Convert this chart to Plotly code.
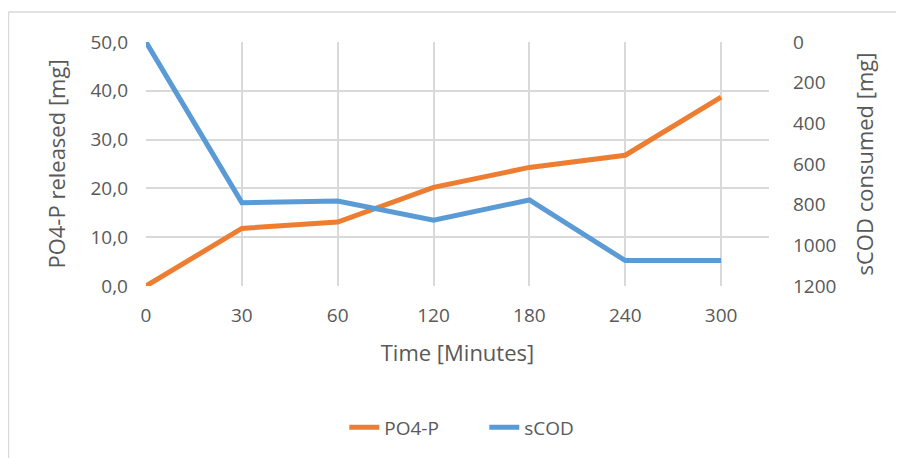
import plotly.graph_objects as go

time_labels = ["0", "30", "60", "120", "180", "240", "300"]
po4_p = [0.0, 11.8, 13.1, 20.2, 24.3, 26.8, 38.7]
scod = [0, 790, 782, 876, 777, 1075, 1075]
left_ticks = [0, 10, 20, 30, 40, 50]
left_tick_text = ["0,0", "10,0", "20,0", "30,0", "40,0", "50,0"]
right_ticks = [0, 200, 400, 600, 800, 1000, 1200]

FONT = "Open Sans"
GRAY = "#595959"
GRID = "#D9D9D9"

fig = go.Figure()
fig.add_trace(go.Scatter(x=list(range(len(time_labels))), y=po4_p, name="PO4-P",
                         mode="lines", line=dict(color="#ED7D31", width=5), yaxis="y"))
fig.add_trace(go.Scatter(x=list(range(len(time_labels))), y=scod, name="sCOD",
                         mode="lines", line=dict(color="#5B9BD5", width=5), yaxis="y2"))

fig.update_layout(
    width=904, height=458,
    margin=dict(l=138, r=143, t=34, b=180),
    paper_bgcolor="white", plot_bgcolor="white",
    font=dict(family=FONT, color=GRAY, size=19),
    showlegend=True,
    legend=dict(orientation="h", x=0.543, xanchor="center", y=-0.58, yanchor="middle",
                font=dict(size=19, color=GRAY), traceorder="normal",
                entrywidth=95, entrywidthmode="pixels"),
    xaxis=dict(range=[0, 6.5], tickmode="array", tickvals=list(range(len(time_labels))),
               ticktext=time_labels, showgrid=True, gridcolor=GRID, gridwidth=2,
               zeroline=False, showline=False, ticks="", ticklabelstandoff=16,
               tickfont=dict(size=19),
               title=dict(text="Time [Minutes]", font=dict(size=22, color=GRAY), standoff=18)),
    yaxis=dict(range=[0, 50], tickmode="array", tickvals=left_ticks, ticktext=left_tick_text,
               showgrid=True, gridcolor=GRID, gridwidth=2, zeroline=False, showline=False,
               ticks="", ticklabelstandoff=17, tickfont=dict(size=19),
               title=dict(text="PO4-P released [mg]", font=dict(size=22, color=GRAY), standoff=18)),
    yaxis2=dict(range=[1200, 0], overlaying="y", side="right", tickmode="array",
                tickvals=right_ticks, showgrid=False, zeroline=False, showline=False,
                ticks="", ticklabelstandoff=23, tickfont=dict(size=19),
                title=dict(text="sCOD consumed [mg]", font=dict(size=22, color=GRAY), standoff=22)),
    shapes=[
        dict(type="line", xref="paper", yref="paper", x0=-0.2207, x1=1.3, y0=1.123, y1=1.123,
             line=dict(color="#D9D9D9", width=1.5)),
        dict(type="line", xref="paper", yref="paper", x0=-0.2207, x1=-0.2207, y0=1.123, y1=-0.72,
             line=dict(color="#D9D9D9", width=1.5)),
    ],
)

fig.write_html("out.html")
